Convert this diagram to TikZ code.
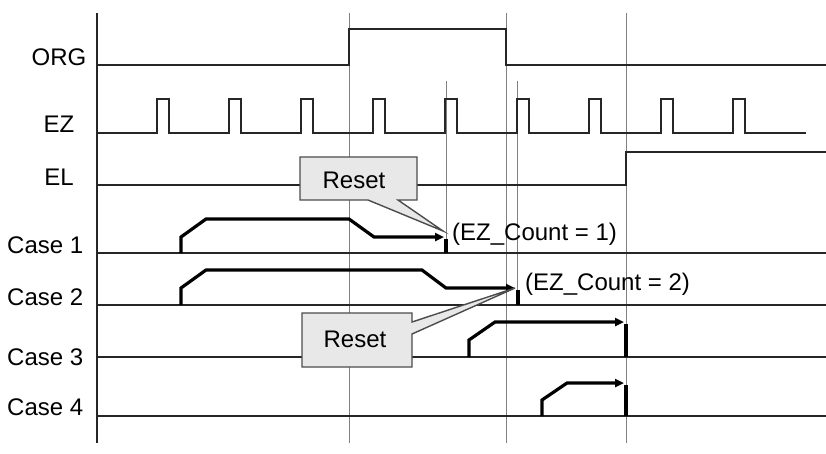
\documentclass[tikz,border=0pt]{standalone}
\usepackage{fontspec}
\setmainfont{Liberation Sans}
\usetikzlibrary{arrows.meta}
\begin{document}
\begin{tikzpicture}[x=1pt,y=-1pt,
  sig/.style={line width=1.7pt, black!85},
  guide/.style={line width=1pt, black!50},
  trace/.style={line width=3.2pt, black},
  tipped/.style={trace, -{Triangle[length=9pt,width=8pt]}},
  lbl/.style={font=\fontsize{24}{28}\selectfont, inner sep=0pt, anchor=base},
  callbox/.style={fill=black!9, draw=black!70, line width=1.4pt, line join=miter}]
\useasboundingbox (0,0) rectangle (826,453);
% guide lines
\draw[guide] (349,13) -- (349,443);
\draw[guide] (506,13) -- (506,443);
\draw[guide] (626,13) -- (626,443);
\draw[guide] (446,81) -- (446,253);
\draw[guide] (517,81) -- (517,305);
% axis
\draw[sig] (97,13) -- (97,443);
% ORG
\draw[sig] (97,65) -- (349,65) -- (349,29) -- (506,29) -- (506,65) -- (826,65);
% EZ
\draw[sig] (97,133) foreach \x in {157,229,...,733} { -- (\x,133) -- (\x,99) -- (\x+12,99) -- (\x+12,133) } -- (806,133);
% EL
\draw[sig] (97,185) -- (626,185) -- (626,152) -- (826,152);
% case baselines
\foreach \y in {253,305,357,416} { \draw[sig] (97,\y) -- (826,\y); }
% case traces
\draw[tipped] (181,253) -- (181,237) -- (206,219) -- (349,219) -- (374,237) -- (444,237);
\draw[trace] (446,239) -- (446,253);
\draw[tipped] (181,305) -- (181,288) -- (206,270) -- (422,270) -- (446,288) -- (515,288);
\draw[trace] (518,290) -- (518,305);
\draw[tipped] (469,357) -- (469,340) -- (495,322) -- (624,322);
\draw[trace] (626,324) -- (626,357);
\draw[tipped] (542,416) -- (542,400) -- (567,383) -- (624,383);
\draw[trace] (626,385) -- (626,416);
% callouts
\coordinate (tip1) at (443,231);
\coordinate (tip2) at (515,288);
\draw[callbox] (300,157) -- (417,157) -- (417,200) -- (398,200) -- (tip1) -- (368,200) -- (300,200) -- cycle;
\node[lbl] (reset1) at (354,188) {Reset};
\draw[callbox] (302,313) -- (412,313) -- (412,322) -- (tip2) -- (412,334) -- (412,367) -- (302,367) -- cycle;
\node[lbl] (reset2) at (355,347) {Reset};
% labels
\node[lbl] (org) at (59,65) {ORG};
\node[lbl] (ez) at (59,132) {EZ};
\node[lbl] (el) at (59,185) {EL};
\node[lbl, anchor=base west] (c1) at (7,253) {Case 1};
\node[lbl, anchor=base west] (c2) at (7,305) {Case 2};
\node[lbl, anchor=base west] (c3) at (7,365) {Case 3};
\node[lbl, anchor=base west] (c4) at (7,415) {Case 4};
\node[lbl, anchor=base west] (cnt1) at (452,240) {(EZ\_Count = 1)};
\node[lbl, anchor=base west] (cnt2) at (525,290) {(EZ\_Count = 2)};
\end{tikzpicture}
\end{document}
